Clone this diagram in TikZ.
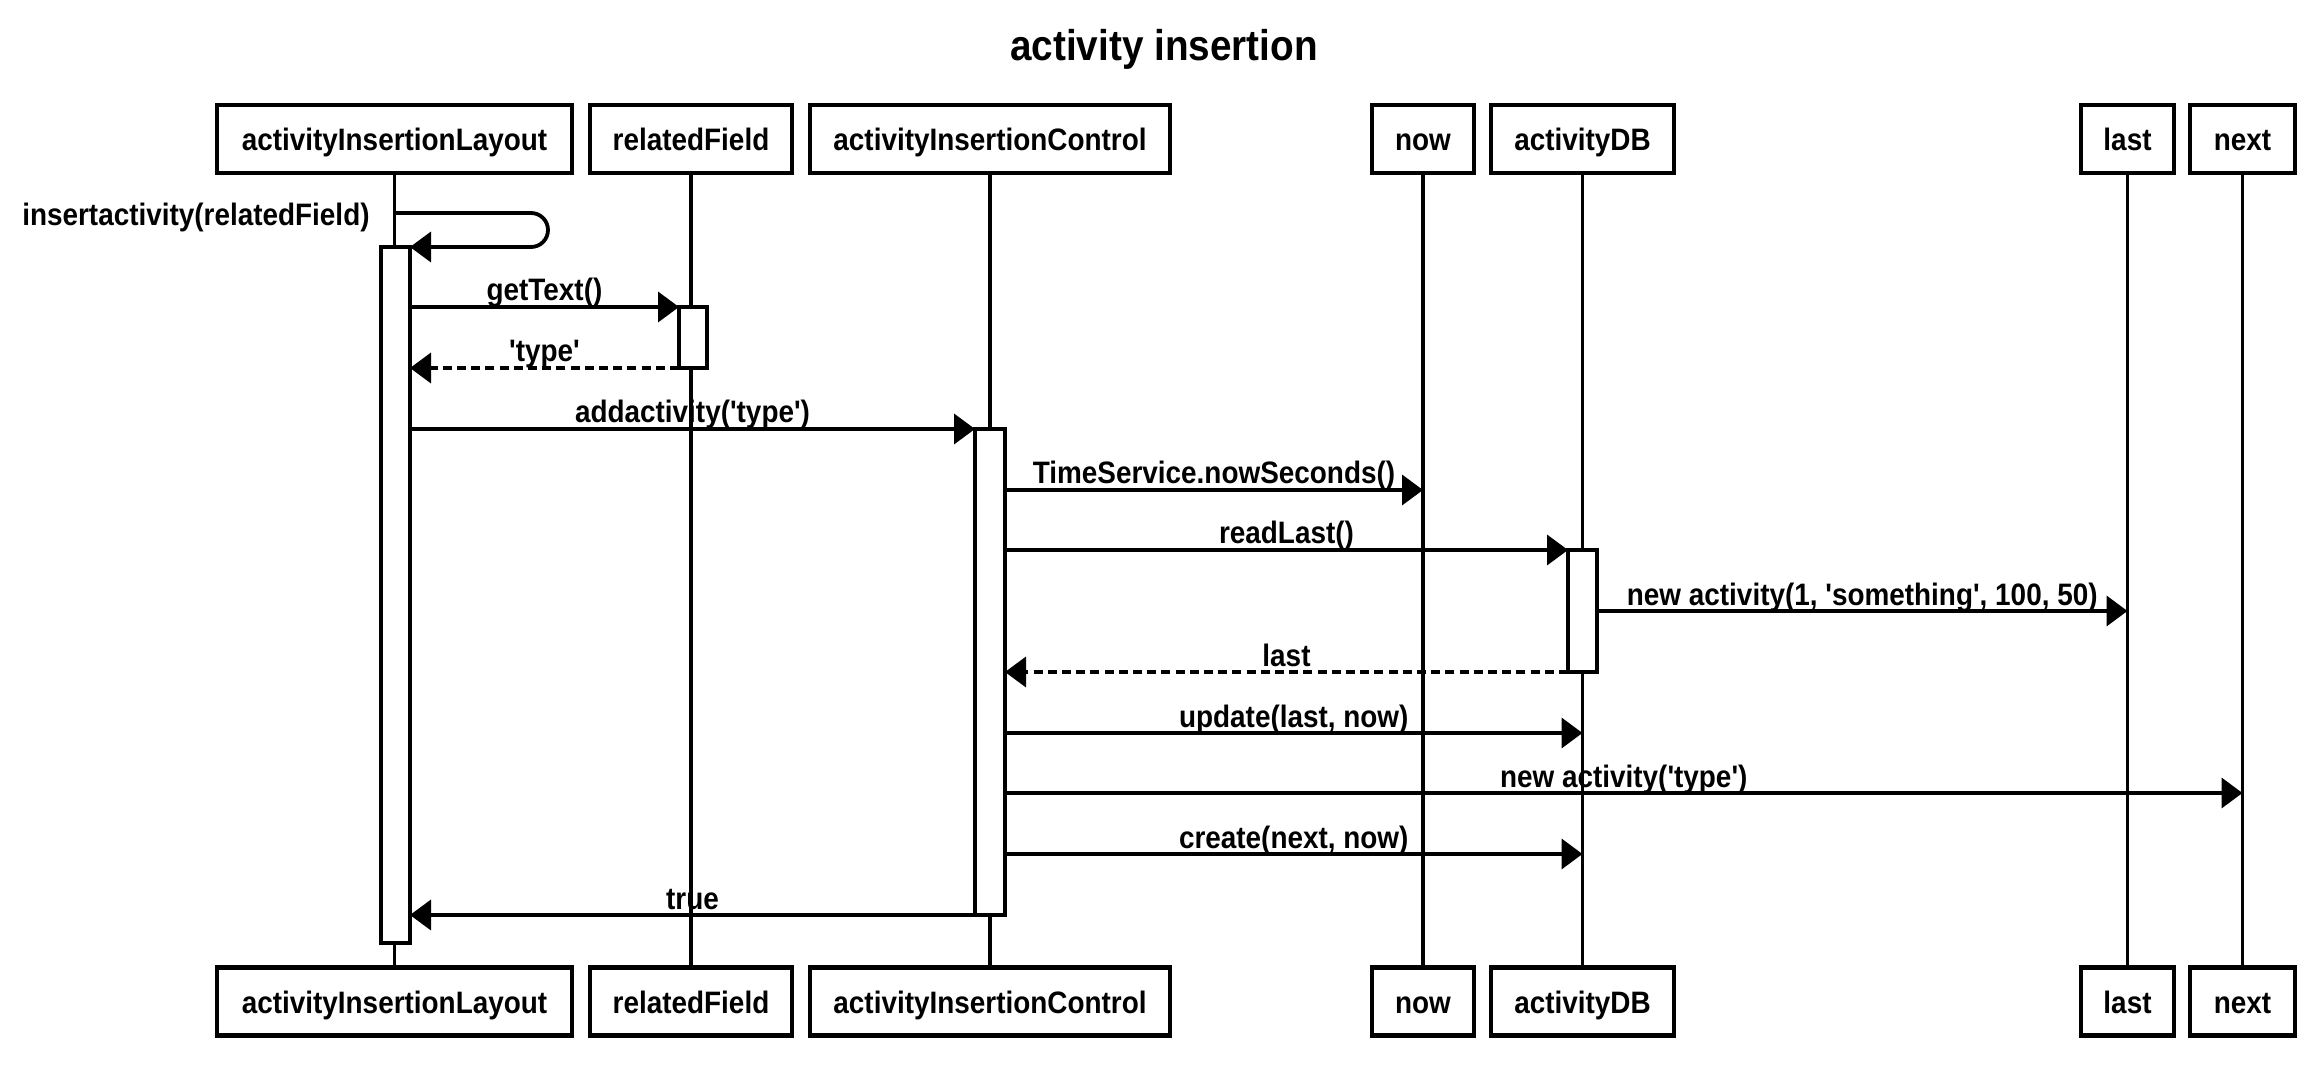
\documentclass[tikz,border=0pt]{standalone}
\usepackage{fontspec}
\setmainfont{Liberation Sans}[Ligatures=TeXOff, FakeStretch=0.9]
\usetikzlibrary{arrows.meta}
\tikzset{
  txt/.style={font=\fontsize{15.5}{17}\selectfont\bfseries},
  obj/.style={txt, draw, line width=2.1pt, minimum height=34pt, inner sep=0pt, fill=white,
    text height=12.5pt, text depth=0.5pt},
  life/.style={line width=1.9pt},
  act/.style={draw, line width=1.9pt, fill=white, inner sep=0pt, outer sep=0pt},
  msg/.style={line width=1.9pt, -{Triangle[length=10.5pt,width=15pt]}},
  ret/.style={msg, dash pattern=on 4.5pt off 2.6pt},
  lbl/.style={txt, inner sep=0pt, anchor=base, yshift=3pt},
}
\begin{document}
\begin{tikzpicture}[x=0.5pt,y=-0.5pt]
\fill[white] (0,0) rectangle (2324,1080);
\useasboundingbox (0,0) rectangle (2324,1080);
\node[font=\fontsize{21.5}{24}\selectfont\bfseries, anchor=base, inner sep=0pt] (title) at (1164,61) {activity insertion};
% top objects
\node[obj, minimum width=177.5pt] (Lt) at (394.5,139) {activityInsertionLayout};
\node[obj, minimum width=101pt] (Rt) at (691,139) {relatedField};
\node[obj, minimum width=180pt] (Ct) at (990,139) {activityInsertionControl};
\node[obj, minimum width=51pt] (Nt) at (1423,139) {now};
\node[obj, minimum width=91.5pt] (Dt) at (1582.5,139) {activityDB};
\node[obj, minimum width=46.5pt] (At) at (2127.5,139) {last};
\node[obj, minimum width=52.5pt] (Xt) at (2242.5,139) {next};
% bottom objects
\node[obj, minimum width=177.5pt] (Lb) at (394.5,1001.5) {activityInsertionLayout};
\node[obj, minimum width=101pt] (Rb) at (691,1001.5) {relatedField};
\node[obj, minimum width=180pt] (Cb) at (990,1001.5) {activityInsertionControl};
\node[obj, minimum width=51pt] (Nb) at (1423,1001.5) {now};
\node[obj, minimum width=91.5pt] (Db) at (1582.5,1001.5) {activityDB};
\node[obj, minimum width=46.5pt] (Ab) at (2127.5,1001.5) {last};
\node[obj, minimum width=52.5pt] (Xb) at (2242.5,1001.5) {next};
% lifelines
\foreach \o in {L,R,C,N,D,A,X} \draw[life] (\o t.south) -- (\o b.north);
% activation bars
\node[act, minimum width=14.5pt, minimum height=348pt] (aL) at (395.5,595) {};
\node[act, minimum width=14pt, minimum height=30.5pt] (aR) at (693,337.5) {};
\node[act, minimum width=15pt, minimum height=243pt] (aC) at (990,672) {};
\node[act, minimum width=14.5pt, minimum height=61pt] (aD) at (1582.5,611) {};
% free ends
\coordinate (s0) at (394.5,213);
\coordinate (s1) at (548,213);
\coordinate (s2) at (548,247);
\coordinate (nowE) at (1423,490);
\coordinate (lastE) at (2127.5,611);
\coordinate (updE) at (1582.5,733);
\coordinate (nextE) at (2242.5,793);
\coordinate (creE) at (1582.5,854);
% messages
\draw[msg, rounded corners=8.5pt] (s0) -- (s1) -- (s2) -- (aL.north east);
\node[lbl, anchor=base east, yshift=0pt] (selflbl) at (370,232) {insertactivity(relatedField)};
\draw[msg] (aL.east |- aR.north west) -- node[lbl]{getText()} (aR.north west);
\draw[ret] (aR.south west) -- node[lbl]{'type'} (aL.east |- aR.south west);
\draw[msg] (aL.east |- aC.north west) -- node[lbl]{addactivity('type')} (aC.north west);
\draw[msg] (aC.east |- nowE) -- node[lbl]{TimeService.nowSeconds()} (nowE);
\draw[msg] (aC.east |- aD.north west) -- node[lbl]{readLast()} (aD.north west);
\draw[msg] (aD.east |- lastE) -- node[lbl]{new activity(1, 'something', 100, 50)} (lastE);
\draw[ret] (aD.south west) -- node[lbl]{last} (aC.east |- aD.south west);
\draw[msg] (aC.east |- updE) -- node[lbl]{update(last, now)} (updE);
\draw[msg] (aC.east |- nextE) -- node[lbl]{new activity('type')} (nextE);
\draw[msg] (aC.east |- creE) -- node[lbl]{create(next, now)} (creE);
\draw[msg] (aC.south west) -- node[lbl]{true} (aL.east |- aC.south west);
\end{tikzpicture}
\end{document}
